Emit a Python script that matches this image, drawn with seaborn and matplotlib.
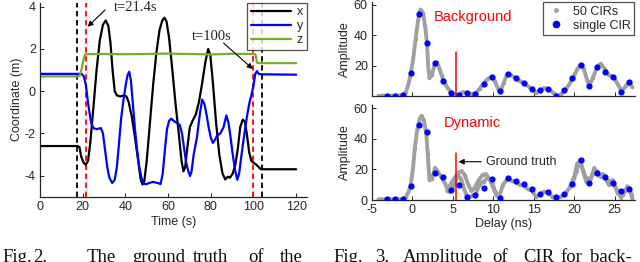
import numpy as np
import pandas as pd
import seaborn as sns
import matplotlib.pyplot as plt
from matplotlib.lines import Line2D

sns.set_style("ticks")
plt.rcParams['font.family'] = ['Liberation Sans', 'DejaVu Sans']
plt.rcParams['axes.unicode_minus'] = False

# Fig. 2: coordinates over time
t_x = [0, 17.5, 18.5, 19.3, 20.5, 21.5, 22.5, 23.5, 25, 26.5, 28, 29.5, 30.8, 32, 33, 34, 35, 36, 37.5, 39.5,
       40.5, 41.5, 43, 44.5, 46, 47.2, 48, 48.8, 50, 51.5, 53, 54.5, 56, 57.3, 58.3, 59.3, 60.5, 62, 63.5, 65,
       66.3, 67.2, 68, 69, 70.2, 71.5, 73, 74.5, 76, 77.5, 78.8, 79.8, 81, 82.5, 84, 85.5, 86.8, 88, 89, 90.3,
       91.5, 92.7, 93.8, 95, 96, 97, 98, 99, 100.2, 101.5, 102.5, 103.5, 108, 120]
v_x = [-2.6, -2.6, -2.65, -3.1, -3.4, -3.48, -3.3, -2.5, -0.8, 1.0, 2.4, 3.15, 3.35, 3.1, 2.3, 1.0, 0.0, -0.2, -0.25, -0.2,
       -0.25, -0.5, -1.2, -2.2, -3.3, -4.2, -4.42, -4.3, -3.3, -1.5, 0.3, 1.8, 2.9, 3.35, 3.48, 3.3, 2.5, 1.0, -0.6, -2.0,
       -3.3, -3.8, -3.6, -2.7, -1.7, -1.4, -1.1, -0.5, 0.4, 1.4, 2.0, 1.7, 0.4, -1.5, -3.0, -3.9, -4.18, -4.05, -4.1, -3.9,
       -3.5, -2.7, -1.7, -1.35, -1.45, -2.1, -2.9, -3.3, -3.4, -3.5, -3.6, -3.7, -3.7, -3.7]

t_y = [0, 18.5, 19.5, 20.5, 21.5, 22.3, 23, 24, 25, 26.5, 28.5, 29.5, 30.5, 31.5, 32.5, 33.8, 35, 36, 37, 38,
       39, 40, 41, 41.8, 42.6, 43.5, 44.5, 45.5, 46.5, 47.5, 48.8, 50, 51, 53, 55, 56.5, 57.5, 58.5, 59.5, 60.5,
       61.5, 62.5, 64, 65.5, 66.5, 67.5, 68.5, 69.5, 70.3, 71, 72, 73.5, 75, 76, 77, 78, 79, 80, 81, 82,
       83, 84.5, 86, 87.3, 88.3, 89.3, 90.3, 91.3, 92.4, 93.3, 94.3, 95.5, 96.8, 98, 99, 100, 100.8, 101.6, 102.5, 103.5, 120]
v_y = [0.82, 0.82, 0.82, 0.7, 0.3, -0.4, -0.9, -1.5, -1.75, -1.8, -1.75, -2.0, -2.8, -3.6, -4.1, -4.35, -4.2, -3.6, -2.5, -1.3,
       -0.5, 0.2, 0.75, 0.92, 0.5, -0.6, -1.8, -2.8, -3.6, -4.1, -4.4, -4.4, -4.35, -4.3, -4.35, -4.4, -3.9, -2.8, -1.8, -1.4,
       -1.3, -1.4, -1.5, -1.6, -2.0, -2.7, -3.4, -3.8, -4.02, -3.8, -3.0, -2.2, -1.0, -0.4, -0.6, -1.1, -1.7, -2.2, -2.45, -2.3,
       -2.1, -2.0, -1.7, -1.15, -1.5, -2.2, -3.0, -3.7, -4.2, -3.9, -3.1, -2.2, -1.3, -0.6, -0.2, 0.25, 0.8, 0.95, 0.82, 0.8, 0.78]

t_z = [0, 17.5, 18.5, 19.5, 20.5, 21.3, 30, 40, 50, 60, 70, 80, 90, 100.5, 101, 101.7, 102.5, 120]
v_z = [0.7, 0.7, 0.72, 1.05, 1.55, 1.75, 1.76, 1.75, 1.76, 1.78, 1.76, 1.74, 1.77, 1.76, 1.72, 1.35, 1.33, 1.33]

black_marks = [17.5, 103.8]
red_marks = [21.4, 100]

# Fig. 3: CIR amplitude
single_delay = [-3.2, -2.2, -1.2, -0.2, 0.8, 1.8, 2.8, 3.8, 4.8, 5.8, 6.8, 7.8, 8.8, 9.8, 10.8, 11.8,
                12.8, 13.8, 14.8, 15.8, 16.8, 17.8, 18.8, 19.8, 20.8, 21.8, 22.8, 23.8, 24.8, 25.8, 26.8]
single_bg = [0.5, 0.5, 1, 15.2, 54, 35.3, 22.2, 10.4, 2.5, 1.2, 2.1, 1.7, 8, 13, 3.8, 14.8,
             11.9, 8.6, 4.7, 4.3, 4.7, 0.3, 4.3, 12.3, 20.7, 7.1, 19.6, 16.3, 13, 3.2, 9.3]
single_dyn = [0.5, 0.5, 0.5, 9.2, 49, 44.6, 17.5, 15.3, 6.6, 9.6, 1.8, 3.5, 7.6, 13.5, 1.5, 14.2,
              12.5, 10.5, 7, 3.7, 5.4, 2.2, 3.6, 10.5, 26.2, 10.9, 17.5, 14.9, 10.9, 6.1, 7.4]

bg_delay = [-4.2, -3, -2, -1.2, -0.8, -0.5, -0.2, 0.1, 0.4, 0.7, 1.0, 1.3, 1.6, 1.8, 1.95, 2.1, 2.4, 2.7, 3.0, 3.3,
            3.6, 3.9, 4.3, 4.8, 5.3, 5.8, 6.3, 6.8, 7.3, 7.8, 8.3, 8.8, 9.3, 9.8, 10.2, 10.6, 10.9, 11.3, 11.7, 12.2,
            12.8, 13.3, 13.8, 14.4, 14.9, 15.3, 15.8, 16.3, 16.9, 17.4, 17.9, 18.4, 18.9, 19.4, 19.9, 20.4, 20.8, 21.2,
            21.6, 21.9, 22.3, 22.9, 23.3, 23.8, 24.3, 24.9, 25.3, 25.9, 26.4, 26.9, 27.2]
bg_amp = [0.5, 0.5, 0.5, 1, 3, 8, 15, 25, 38, 50, 57, 55, 45, 35, 20, 12, 14, 20, 22.5, 19,
          14, 10, 6, 2.5, 1.2, 1.5, 3, 2.2, 1.8, 2, 5, 8.5, 11.5, 13, 10, 5, 3.5, 9, 14.5, 14,
          12, 10, 8.5, 6.5, 4.5, 2.5, 4, 5.5, 4.8, 2.5, 0.5, 1.5, 4, 8, 12.5, 18, 21, 18,
          11, 7, 12, 20, 21.5, 18, 14, 13, 9, 3.2, 7, 9.5, 6]

dyn_delay = [-4.2, -1.2, -0.8, -0.5, -0.2, 0.1, 0.3, 0.6, 0.9, 1.15, 1.4, 1.7, 1.9, 2.1, 2.4, 2.8, 3.1, 3.5, 4.0, 4.5,
             4.9, 5.3, 5.7, 6.0, 6.4, 6.8, 7.3, 7.8, 8.3, 8.8, 9.3, 9.8, 10.2, 10.7, 11.2, 11.8, 12.3, 12.8, 13.3, 13.8,
             14.3, 14.8, 15.3, 15.8, 16.3, 16.8, 17.3, 17.8, 18.3, 18.8, 19.3, 19.8, 20.3, 20.7, 21.1, 21.5, 21.8, 22.3,
             22.8, 23.3, 23.8, 24.3, 24.8, 25.3, 25.8, 26.3, 26.8, 27.2]
dyn_amp = [0.5, 0.5, 2, 5, 10, 22, 34, 46, 53, 55, 52, 44, 30, 13, 13.5, 21, 19, 15.5, 11, 5.5,
           7, 12, 16, 14, 7, 2, 2.5, 3.5, 10, 12, 14.5, 13, 6, 1.5, 10, 14, 12.5, 11.5, 10, 9.5,
           7, 6, 2, 3.7, 5.5, 5, 2, 1, 2, 3.6, 7, 10.5, 19, 26, 19, 12, 10.5, 17,
           19, 15, 14.5, 10, 11, 6.5, 1.5, 6, 8, 1]

dyn2_delay = [4.3, 4.8, 5.3, 5.7, 6.1, 6.5, 6.9, 7.3, 7.7, 8.2, 8.7, 9.1, 9.5, 10.0, 10.4, 10.8]
dyn2_amp = [6, 11, 15, 18, 19, 16, 10, 6, 8, 13, 16.5, 17, 14, 8, 3, 2]
dyn3_delay = [19.5, 20.0, 20.4, 20.9, 21.4, 22.0, 22.5, 23.0, 23.6, 24.2, 24.8, 25.4, 26.0, 26.6, 27.2]
dyn3_amp = [9, 15, 24, 23, 15, 13, 21, 16, 17, 12, 13, 4, 3, 9, 3]

ground_truth = 5.4

dk = '#262626'
gray = '#a0a0a0'
green = '#77AC30'

fig = plt.figure(figsize=(6.4, 2.62), dpi=100)
ax1 = fig.add_axes([0.0625, 0.2492, 0.4169, 0.7412])
ax2 = fig.add_axes([0.58125, 0.6317, 0.4105, 0.361])
ax3 = fig.add_axes([0.58125, 0.2366, 0.4105, 0.3626])

# ---- left plot
for tx in black_marks:
    ax1.axvline(tx, color='black', ls=(0, (3, 2)), lw=1.3)
for tx in red_marks:
    ax1.axvline(tx, color='#ff0000', ls=(0, (3, 2)), lw=1.3)
sns.lineplot(x=t_x, y=v_x, ax=ax1, color='black', lw=1.6, label='x', sort=False)
sns.lineplot(x=t_y, y=v_y, ax=ax1, color='#0000ff', lw=1.6, label='y', sort=False)
sns.lineplot(x=t_z, y=v_z, ax=ax1, color=green, lw=1.6, label='z', sort=False)

ax1.set_xlim(0, 125)
ax1.set_ylim(-5, 4.2)
ax1.set_xticks(range(0, 121, 20))
ax1.set_yticks([-4, -2, 0, 2, 4])
ax1.set_xlabel('Time (s)', fontsize=9, color=dk, labelpad=2)
ax1.set_ylabel('Coordinate (m)', fontsize=9, color=dk, labelpad=1)

ax1.text(45, 3.95, 't=21.4s', fontsize=10.5, family='Liberation Serif', ha='center', va='center')
ax1.annotate('', xy=(22.3, 3.05), xytext=(30.5, 3.85),
             arrowprops=dict(arrowstyle='-|>', color='black', lw=0.8, mutation_scale=8, shrinkA=0, shrinkB=0))
ax1.text(80.3, 2.57, 't=100s', fontsize=10.5, family='Liberation Serif', ha='center', va='center')
ax1.annotate('', xy=(99.7, 1.05), xytext=(86, 2.28),
             arrowprops=dict(arrowstyle='-|>', color='black', lw=0.8, mutation_scale=8, shrinkA=0, shrinkB=0))

leg = ax1.legend(loc='upper right', bbox_to_anchor=(1.0, 1.0), borderaxespad=0, fontsize=9,
                 handlelength=3.2, handletextpad=0.5, labelspacing=0.15, borderpad=0.3,
                 frameon=True, fancybox=False, markerfirst=True)
leg.get_frame().set_edgecolor(dk)
leg.get_frame().set_linewidth(0.9)

# ---- right plots
bg = pd.DataFrame({'delay': bg_delay, 'amp': bg_amp})
sns.lineplot(data=bg, x='delay', y='amp', ax=ax2, color=gray, lw=2.8, marker='.', markersize=5,
             markeredgewidth=0, sort=False)
sns.scatterplot(x=single_delay, y=single_bg, ax=ax2, color='#0000ff', s=20, linewidth=0, zorder=5)
ax2.plot([ground_truth, ground_truth], [0, 29], color='#ff0000', lw=1.1)
ax2.text(7.5, 52, 'Background', color='#ff0000', fontsize=10.5, ha='center', va='center')

dyn = pd.DataFrame({'delay': dyn_delay + dyn2_delay + dyn3_delay,
                    'amp': dyn_amp + dyn2_amp + dyn3_amp,
                    'trace': ['a'] * len(dyn_delay) + ['b'] * len(dyn2_delay) + ['c'] * len(dyn3_delay)})
sns.lineplot(data=dyn, x='delay', y='amp', units='trace', estimator=None, ax=ax3, color=gray, lw=2.8,
             marker='.', markersize=5, markeredgewidth=0, sort=False)
sns.scatterplot(x=single_delay, y=single_dyn, ax=ax3, color='#0000ff', s=20, linewidth=0, zorder=5)
ax3.plot([ground_truth, ground_truth], [0, 30.5], color='#ff0000', lw=1.1)
ax3.text(7.4, 50, 'Dynamic', color='#ff0000', fontsize=10.5, ha='center', va='center')
ax3.annotate('', xy=(5.7, 25), xytext=(8.5, 25),
             arrowprops=dict(arrowstyle='-|>', color='black', lw=0.8, mutation_scale=8, shrinkA=0, shrinkB=0))
ax3.text(9.1, 25, 'Ground truth', fontsize=9, ha='left', va='center')

for ax in (ax2, ax3):
    ax.set_xlim(-5, 27.5)
    ax.set_ylim(0, 62)
    ax.set_xticks(range(-5, 26, 5))
    ax.set_ylabel('Amplitude', fontsize=9, color=dk, labelpad=2)
ax2.set_yticks([20, 40, 60])
ax2.set_xticklabels([])
ax2.set_xlabel('')
ax3.set_yticks([0, 20, 40, 60])
ax3.set_xlabel('Delay (ns)', fontsize=9, color=dk, labelpad=1)

handles = [Line2D([], [], ls='none', marker='.', color=gray, markersize=5),
           Line2D([], [], ls='none', marker='o', color='#0000ff', markersize=4.5)]
leg2 = ax2.legend(handles, ['50 CIRs', 'single CIR'], loc='upper right', bbox_to_anchor=(0.998, 1.0),
                  borderaxespad=0, fontsize=9, handlelength=1.5, handletextpad=0.6, labelspacing=0.15,
                  borderpad=0.3, frameon=True, fancybox=False)
leg2.get_frame().set_edgecolor(dk)
leg2.get_frame().set_linewidth(0.9)

for ax in (ax1, ax2, ax3):
    sns.despine(ax=ax)
    for s in ('left', 'bottom'):
        ax.spines[s].set_color(dk)
        ax.spines[s].set_linewidth(0.9)
    ax.tick_params(direction='in', length=3, width=0.7, colors=dk, labelsize=9, pad=3)

# cut-off captions below the figures
cap_words = [('Fig.', 2), ('2.', 33), ('The', 87), ('ground', 132), ('truth', 193), ('of', 248), ('the', 280),
             ('Fig.', 333), ('3.', 375), ('Amplitude', 403), ('of', 492), ('CIR', 523), ('for', 560), ('back-', 590)]
for word, px in cap_words:
    fig.text(px / 640, 0.5 / 262, word, fontsize=13.5, family='Liberation Serif', ha='left', va='baseline',
             color='#111111')

fig.savefig('out.png', dpi=100)
